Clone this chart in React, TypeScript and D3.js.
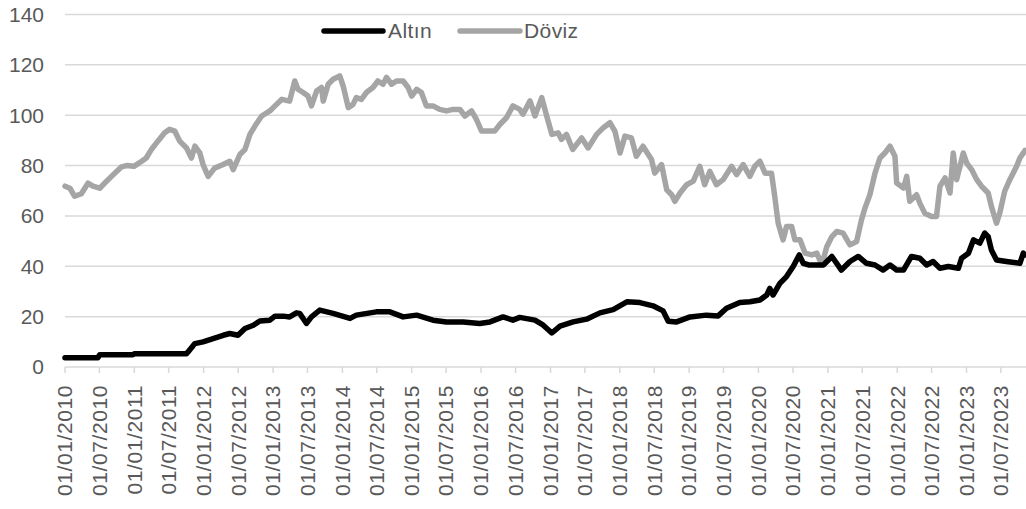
import * as d3 from "d3";

const altinDates = [
  "2010-01-01", "2010-06-23", "2010-07-03", "2010-12-25", "2011-01-03", "2011-10-03",
  "2011-10-11", "2011-11-16", "2011-12-29", "2012-02-20", "2012-04-13", "2012-05-18",
  "2012-06-30", "2012-08-06", "2012-09-19", "2012-10-23", "2012-12-15", "2013-01-11",
  "2013-02-24", "2013-03-29", "2013-05-04", "2013-05-21", "2013-06-26", "2013-07-22",
  "2013-09-04", "2013-11-13", "2014-02-10", "2014-03-15", "2014-06-29", "2014-09-08",
  "2014-11-17", "2015-01-27", "2015-04-23", "2015-07-03", "2015-09-29", "2015-12-25",
  "2016-02-17", "2016-04-26", "2016-06-17", "2016-07-23", "2016-10-11", "2016-11-24",
  "2017-01-08", "2017-02-20", "2017-04-30", "2017-07-10", "2017-09-18", "2017-11-27",
  "2018-02-07", "2018-04-17", "2018-06-25", "2018-08-17", "2018-09-13", "2018-10-27",
  "2019-01-06", "2019-04-02", "2019-06-03", "2019-07-17", "2019-09-25", "2019-11-17",
  "2020-01-09", "2020-02-14", "2020-03-01", "2020-03-18", "2020-04-23", "2020-05-28",
  "2020-07-02", "2020-08-03", "2020-08-24", "2020-09-25", "2020-12-08", "2021-01-22",
  "2021-03-13", "2021-04-27", "2021-06-10", "2021-07-23", "2021-09-06", "2021-10-19",
  "2021-11-24", "2021-12-29", "2022-02-03", "2022-03-17", "2022-04-30", "2022-06-05",
  "2022-07-09", "2022-08-14", "2022-09-27", "2022-11-19", "2022-12-06", "2023-01-11",
  "2023-02-07", "2023-03-12", "2023-04-07", "2023-04-25", "2023-05-12", "2023-06-08",
  "2023-07-30", "2023-10-09", "2023-10-27", "2023-11-05",
];
const altinValues = [
  3.7, 3.7, 4.9, 4.9, 5.3, 5.3,
  6, 9.3, 10, 11.3, 12.6, 13.3,
  12.6, 15.3, 16.6, 18.3, 18.6, 20.2,
  20.2, 19.9, 21.5, 21.3, 17.3, 19.9,
  22.6, 21.3, 19.3, 20.6, 21.9, 21.9,
  19.9, 20.6, 18.6, 17.9, 17.9, 17.3,
  17.9, 19.9, 18.6, 19.7, 18.6, 16.6,
  13.5, 16.2, 17.9, 19.0, 21.5, 22.8,
  25.9, 25.6, 24.3, 22.3, 18.2, 17.9,
  19.9, 20.6, 20.3, 23.3, 25.6, 25.9,
  26.6, 28.6, 31.2, 28.6, 33.2, 35.9,
  39.9, 44.5, 41.2, 40.5, 40.5, 43.9,
  38.5, 41.9, 43.9, 41.2, 40.5, 38.5,
  40.5, 38.5, 38.5, 43.9, 43.2, 40.5,
  41.9, 39.2, 39.9, 39.2, 43.2, 45.2,
  50.5, 49.2, 53.2, 51.8, 46.5, 42.5,
  41.9, 41.2, 45.2, 44.5,
];

const dovizDates = [
  "2010-01-01", "2010-01-27", "2010-02-21", "2010-03-28", "2010-05-02", "2010-05-28",
  "2010-07-03", "2010-08-08", "2010-09-12", "2010-10-26", "2010-11-21", "2010-12-30",
  "2011-02-09", "2011-03-05", "2011-04-01", "2011-05-05", "2011-06-10", "2011-07-06",
  "2011-08-02", "2011-08-28", "2011-10-03", "2011-10-29", "2011-11-16", "2011-12-12",
  "2011-12-29", "2012-01-25", "2012-02-28", "2012-04-13", "2012-05-18", "2012-06-05",
  "2012-07-10", "2012-08-06", "2012-09-01", "2012-09-27", "2012-11-02", "2012-12-15",
  "2013-01-11", "2013-02-16", "2013-03-29", "2013-04-25", "2013-05-12", "2013-06-08",
  "2013-07-04", "2013-07-22", "2013-08-18", "2013-09-13", "2013-09-22", "2013-10-18",
  "2013-11-13", "2013-12-18", "2014-01-05", "2014-02-01", "2014-02-26", "2014-03-15",
  "2014-04-11", "2014-05-07", "2014-06-11", "2014-07-07", "2014-08-03", "2014-08-21",
  "2014-09-17", "2014-10-13", "2014-11-17", "2014-12-13", "2015-01-01", "2015-01-27",
  "2015-02-21", "2015-03-19", "2015-04-23", "2015-05-28", "2015-07-03", "2015-08-07",
  "2015-09-12", "2015-10-08", "2015-11-12", "2015-12-08", "2016-01-04", "2016-02-08",
  "2016-03-13", "2016-04-09", "2016-05-14", "2016-06-17", "2016-07-23", "2016-08-09",
  "2016-09-15", "2016-10-11", "2016-11-16", "2016-12-12", "2017-01-08", "2017-02-10",
  "2017-02-28", "2017-03-26", "2017-04-28", "2017-06-14", "2017-07-18", "2017-09-01",
  "2017-10-06", "2017-11-10", "2017-12-06", "2018-01-02", "2018-01-28", "2018-03-03",
  "2018-03-29", "2018-05-03", "2018-06-17", "2018-07-04", "2018-08-09", "2018-09-05",
  "2018-10-01", "2018-10-18", "2018-11-14", "2018-12-19", "2019-01-23", "2019-02-26",
  "2019-03-24", "2019-04-20", "2019-05-25", "2019-06-29", "2019-08-13", "2019-09-08",
  "2019-10-13", "2019-11-17", "2019-12-13", "2020-01-09", "2020-02-05", "2020-03-10",
  "2020-03-27", "2020-04-14", "2020-05-10", "2020-05-28", "2020-06-24", "2020-07-11",
  "2020-08-07", "2020-09-03", "2020-10-08", "2020-11-04", "2020-11-30", "2020-12-26",
  "2021-01-22", "2021-02-17", "2021-03-22", "2021-04-27", "2021-06-01", "2021-06-27",
  "2021-07-15", "2021-08-10", "2021-09-06", "2021-10-02", "2021-10-28", "2021-11-24",
  "2021-12-20", "2021-12-29", "2022-02-03", "2022-02-20", "2022-03-08", "2022-04-13",
  "2022-04-30", "2022-05-26", "2022-07-01", "2022-07-27", "2022-08-14", "2022-09-10",
  "2022-10-06", "2022-10-23", "2022-11-10", "2022-12-15", "2023-01-02", "2023-01-28",
  "2023-02-24", "2023-03-21", "2023-04-25", "2023-05-12", "2023-06-08", "2023-06-25",
  "2023-07-21", "2023-08-17", "2023-09-22", "2023-10-09", "2023-11-05",
];
const dovizValues = [
  71.8, 71, 67.8, 68.8, 73, 71.8,
  71, 73.8, 76.4, 79.5, 80, 79.7,
  81.7, 83, 86.4, 89.7, 93, 94.4,
  93.7, 89.7, 87, 83, 87.7, 85,
  80.4, 75.7, 79, 80.4, 81.7, 78.4,
  84.4, 86.4, 92.4, 95.7, 99.7, 101.7,
  103.7, 106.3, 105.6, 113.6, 110.3, 109,
  107.6, 103.7, 109.6, 111, 105.6, 112.3,
  114.3, 115.6, 111.6, 103, 104.3, 107,
  106.3, 109, 111, 113.6, 112.3, 115,
  112.3, 113.6, 113.6, 111, 107.6, 110.3,
  109, 103.7, 103.7, 102.3, 101.7, 102.3,
  102.3, 99.7, 101.7, 98.3, 93.7, 93.7,
  93.7, 96.3, 99, 103.7, 102.3, 100.4,
  105.7, 99.7, 107, 99.7, 92.4, 93,
  90.4, 92.4, 86.4, 91, 87, 92.4,
  95, 97, 93.7, 85, 91.7, 91,
  83.7, 87.7, 82.4, 77, 80.4, 70.4,
  68.4, 65.8, 69.1, 72.4, 73.8, 79.7,
  72.4, 77.7, 72.4, 74.4, 79.7, 76.4,
  80.4, 75.7, 79.7, 81.7, 77, 77,
  67.8, 57.1, 50.5, 55.8, 55.8, 50.5,
  50.5, 45.2, 44.5, 45.2, 40.5, 47.8,
  51.8, 53.8, 53.2, 48.5, 49.8, 58.5,
  63.1, 68.4, 77, 83, 85, 87.7,
  83.7, 73.1, 71.1, 75.7, 65.8, 68.4,
  65.1, 61.1, 59.8, 59.8, 71.8, 75.1,
  69.1, 85, 74.4, 85, 81, 78.4,
  74.4, 71.8, 69.1, 63.8, 57.1, 61.1,
  69.8, 74.4, 79.7, 83, 86,
];

const yTicks = [0, 20, 40, 60, 80, 100, 120, 140];
const seriesNames = ["Altın", "Döviz"];
const seriesColors = ["#000000", "#a5a5a5"];

const width = 1026;
const height = 509;
const marginLeft = 65;
const plotRight = 1025;
const plotTop = 14.5;
const plotBottom = 367;

const parse = d3.utcParse("%Y-%m-%d");
const fmt = d3.utcFormat("%d/%m/%Y");

export default function App() {
  const x = d3.scaleUtc()
    .domain([parse("2010-01-01")!, parse("2023-11-05")!])
    .range([marginLeft, plotRight]);
  const y = d3.scaleLinear().domain([0, 140]).range([plotBottom, plotTop]);

  const line = d3.line<[Date, number]>()
    .x(d => x(d[0]))
    .y(d => y(d[1]));

  const altin: [Date, number][] = altinDates.map((d, i) => [parse(d)!, altinValues[i]]);
  const doviz: [Date, number][] = dovizDates.map((d, i) => [parse(d)!, dovizValues[i]]);

  const xTicks = d3.utcMonth.every(6)!.range(parse("2010-01-01")!, parse("2023-11-05")!);

  const text = "#595959";
  const font = "'Liberation Sans', Arial, sans-serif";

  return (
    <svg width={width} height={height} style={{ position: "absolute", left: 0, top: 0 }}
      fontFamily={font}>
      <rect width={width} height={height} fill="#fff" />
      {yTicks.map(t => (
        <g key={t}>
          <line x1={marginLeft} x2={width} y1={y(t)} y2={y(t)} stroke="#d9d9d9" strokeWidth={1.5} />
          <text x={44} y={y(t)} dy="0.35em" textAnchor="end" fontSize={21} fill={text}>{t}</text>
        </g>
      ))}
      {xTicks.map(t => (
        <g key={+t}>
          <line x1={x(t)} x2={x(t)} y1={plotBottom} y2={plotBottom + 6} stroke="#d9d9d9" strokeWidth={1.5} />
          <text transform={`translate(${x(t)},${plotBottom + 18}) rotate(-90)`} dy="0.35em"
            textAnchor="end" fontSize={21} letterSpacing={0.6} fill={text}>{fmt(t)}</text>
        </g>
      ))}
      <path d={line(doviz) ?? ""} fill="none" stroke={seriesColors[1]} strokeWidth={5.5}
        strokeLinejoin="round" strokeLinecap="round" />
      <path d={line(altin) ?? ""} fill="none" stroke={seriesColors[0]} strokeWidth={5.5}
        strokeLinejoin="round" strokeLinecap="round" />
      <g>
        <line x1={324} x2={383} y1={31} y2={31} stroke={seriesColors[0]} strokeWidth={5.5} strokeLinecap="round" />
        <text x={388} y={31} dy="0.35em" fontSize={21} letterSpacing={0.4} fill={text}>{seriesNames[0]}</text>
        <line x1={460} x2={520} y1={31} y2={31} stroke={seriesColors[1]} strokeWidth={5.5} strokeLinecap="round" />
        <text x={524} y={31} dy="0.35em" fontSize={21} letterSpacing={0.4} fill={text}>{seriesNames[1]}</text>
      </g>
    </svg>
  );
}
